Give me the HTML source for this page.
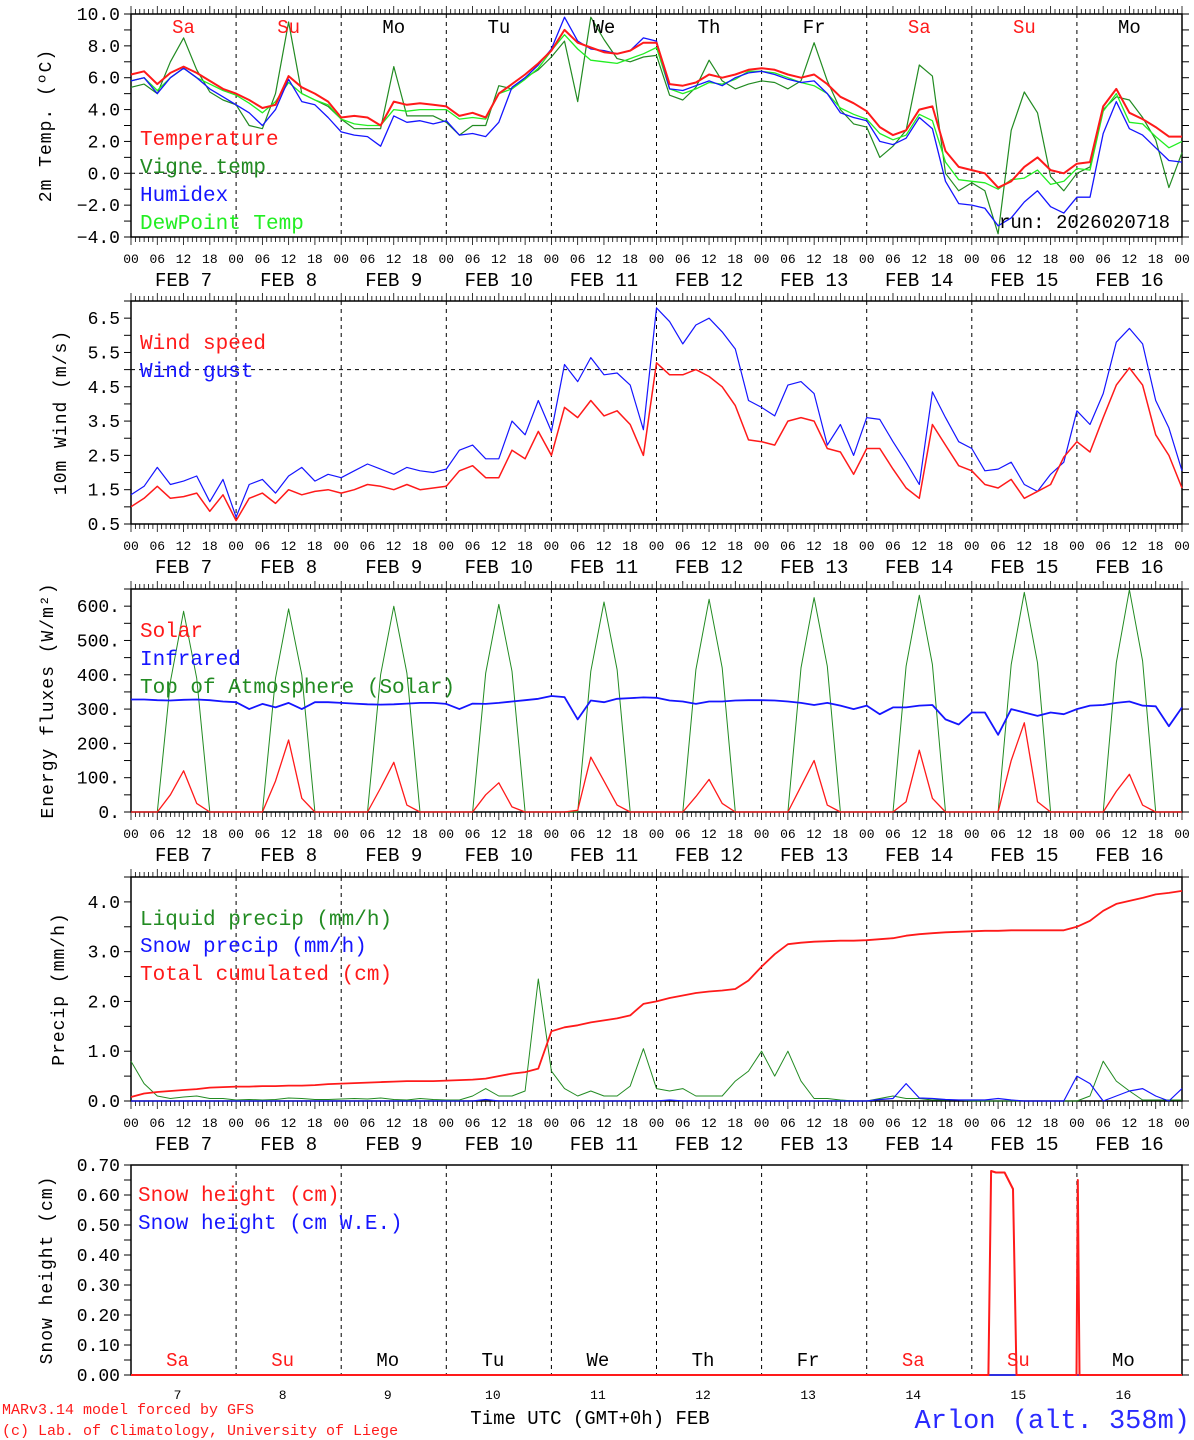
<!DOCTYPE html>
<html><head><meta charset="utf-8"><style>
html,body{margin:0;padding:0;background:#fff}
svg{display:block}
text{font-family:"Liberation Mono","DejaVu Sans Mono",monospace}
</style></head><body>
<svg id="c" width="1194" height="1440" viewBox="0 0 1194 1440" xmlns="http://www.w3.org/2000/svg"></svg>
<script>
const dayLabels=["Sa","Su","Mo","Tu","We","Th","Fr","Sa","Su","Mo"];
const dateLabels=["7","8","9","10","11","12","13","14","15","16"];
const temperature=[6.2,6.4,5.6,6.3,6.7,6.3,5.8,5.3, 5.0,4.6,4.1,4.3,6.1,5.4,5.0,4.5, 3.5,3.6,3.5,3.0,4.5,4.3,4.4,4.3, 4.2,3.6,3.8,3.5,5.0,5.6,6.2,6.9, 7.7,9.0,8.2,7.9,7.6,7.5,7.7,8.2, 8.2,5.6,5.5,5.7,6.2,6.0,6.2,6.5, 6.6,6.5,6.2,6.0,6.2,5.6,4.8,4.4, 3.9,2.9,2.4,2.7,4.0,4.2,1.4,0.4, 0.2,0.0,-0.9,-0.5,0.4,1.0,0.2,0.0, 0.6,0.7,4.2,5.3,3.8,3.4,2.9,2.3,2.3];
const vigneTemp=[5.4,5.6,5.0,7.0,8.5,6.5,5.1,4.6, 4.3,3.0,2.8,5.0,9.5,5.0,4.6,4.2, 3.4,2.8,2.8,2.8,6.7,3.6,3.6,3.6, 3.2,2.4,3.0,3.0,5.5,5.3,6.0,6.5, 7.3,8.3,4.5,9.8,8.4,7.2,7.0,7.3, 7.4,4.9,4.6,5.4,7.1,5.8,5.3,5.6, 5.8,5.7,5.3,5.8,8.2,5.8,4.0,3.1, 2.9,1.0,1.7,2.7,6.8,6.1,0.0,-1.1, -0.6,-1.1,-3.8,2.7,5.1,3.8,-0.2,-1.1, 0.0,0.4,4.0,4.8,4.6,3.5,2.1,-0.9,1.3];
const humidex=[5.8,6.0,5.0,6.0,6.6,6.0,5.3,4.8, 4.3,3.8,3.0,4.0,5.9,4.5,4.3,3.5, 2.6,2.4,2.3,1.7,3.6,3.2,3.3,3.1, 3.3,2.4,2.5,2.3,3.2,5.4,6.0,6.8, 7.8,9.8,8.3,7.8,7.7,7.5,7.7,8.5, 8.3,5.3,5.2,5.5,5.8,5.5,6.0,6.3, 6.4,6.2,5.9,5.7,5.8,5.0,3.8,3.5, 3.3,2.0,1.8,2.2,3.5,2.8,-0.5,-1.9, -2.0,-2.2,-3.3,-2.8,-1.8,-1.1,-2.1,-2.5, -1.5,-1.5,2.5,4.5,2.8,2.4,1.6,0.8,0.7];
const dewPoint=[5.8,6.0,5.2,6.0,6.6,6.0,5.6,5.2, 4.9,4.4,3.8,4.5,5.7,5.0,4.6,4.3, 3.4,3.1,3.0,3.0,4.0,3.9,4.0,4.0, 4.0,3.4,3.5,3.4,5.0,5.3,5.9,6.6, 7.7,8.7,7.8,7.1,7.0,6.9,7.2,7.5, 7.9,5.3,5.0,5.3,5.7,5.6,5.9,6.4, 6.4,6.3,6.0,5.7,5.5,5.0,4.1,3.7, 3.4,2.5,2.1,2.4,3.7,3.3,0.7,-0.4, -0.5,-0.6,-1.0,-0.4,-0.3,0.2,-0.7,-0.5, 0.3,0.2,3.9,5.0,3.2,3.1,2.3,1.6,2.0];
const windSpeed=[1.0,1.25,1.6,1.25,1.3,1.4,0.87,1.35, 0.6,1.25,1.4,1.1,1.5,1.35,1.45,1.5, 1.4,1.5,1.65,1.6,1.5,1.65,1.5,1.55, 1.6,2.05,2.2,1.85,1.85,2.65,2.4,3.2, 2.5,3.9,3.6,4.1,3.65,3.8,3.4,2.5, 5.2,4.85,4.85,5.0,4.8,4.5,3.95,2.95, 2.9,2.8,3.5,3.6,3.5,2.7,2.6,1.95, 2.7,2.7,2.1,1.55,1.25,3.4,2.8,2.2, 2.05,1.65,1.55,1.8,1.25,1.45,1.65,2.45, 2.9,2.6,3.6,4.55,5.05,4.55,3.1,2.5,1.55];
const windGust=[1.35,1.6,2.15,1.65,1.75,1.9,1.15,1.8, 0.7,1.65,1.8,1.4,1.9,2.15,1.75,1.95, 1.85,2.05,2.25,2.1,1.95,2.15,2.05,2.0, 2.1,2.65,2.8,2.4,2.4,3.5,3.1,4.1, 3.2,5.15,4.65,5.35,4.85,4.9,4.55,3.25, 6.8,6.4,5.75,6.3,6.5,6.1,5.6,4.1, 3.9,3.65,4.55,4.65,4.3,2.8,3.4,2.5, 3.6,3.55,2.9,2.3,1.65,4.35,3.6,2.9, 2.7,2.05,2.1,2.3,1.65,1.45,1.95,2.3, 3.8,3.4,4.3,5.8,6.2,5.75,4.1,3.3,2.05];
const solar=[0,0,0,50,120,25,0,0, 0,0,0,90,210,40,0,0, 0,0,0,70,145,20,0,0, 0,0,0,50,85,15,0,0, 0,0,5,160,90,20,0,0, 0,0,0,45,95,25,0,0, 0,0,0,75,150,20,0,0, 0,0,0,30,180,40,0,0, 0,0,0,150,260,30,0,0, 0,0,0,60,110,20,0,0,0];
const infrared=[328,328,326,325,327,328,326,322, 320,300,315,305,318,300,320,320, 318,316,314,313,314,316,318,318, 315,300,316,315,318,322,326,330, 338,335,270,325,320,330,332,334, 333,325,322,315,322,322,325,326, 326,325,322,318,312,318,310,300, 310,285,305,305,310,312,270,255, 290,290,225,300,290,280,290,285, 300,310,312,318,322,310,308,250,305];
const toaSolar=[0,0,0,380,585,390,0,0, 0,0,0,390,592,400,0,0, 0,0,0,400,600,405,0,0, 0,0,0,405,605,410,0,0, 0,0,0,410,612,415,0,0, 0,0,0,415,620,420,0,0, 0,0,0,420,625,425,0,0, 0,0,0,425,632,430,0,0, 0,0,0,430,640,435,0,0, 0,0,0,435,648,440,0,0,0];
const liquidPrecip=[0.8,0.35,0.1,0.05,0.08,0.1,0.05,0.05, 0.02,0.03,0.02,0.03,0.06,0.05,0.03,0.03, 0.04,0.05,0.04,0.06,0.03,0.02,0.05,0.03, 0.02,0.02,0.1,0.25,0.1,0.1,0.2,2.45, 0.6,0.25,0.1,0.2,0.1,0.1,0.3,1.05, 0.25,0.2,0.25,0.1,0.1,0.1,0.4,0.6, 1.0,0.5,1.0,0.4,0.05,0.05,0.02,0.0, 0.0,0.05,0.1,0.05,0.05,0.02,0.02,0.02, 0.0,0.0,0.0,0.0,0.0,0.0,0.0,0.0, 0.0,0.1,0.8,0.4,0.2,0.02,0.02,0.02,0.02];
const snowPrecip=[0,0,0,0,0,0,0,0, 0,0,0,0,0,0,0,0, 0,0,0,0,0,0,0,0, 0,0,0,0.03,0,0,0,0, 0,0,0,0,0,0,0,0, 0,0.02,0,0,0,0,0,0, 0,0,0,0,0,0,0,0, 0,0.03,0.05,0.35,0.06,0.05,0.03,0.02, 0.02,0.02,0.05,0.02,0,0,0,0, 0.5,0.35,0.0,0.1,0.2,0.25,0.1,0.0,0.25];
const totalCumulated=[0.08,0.15,0.18,0.2,0.22,0.24,0.27,0.28, 0.29,0.29,0.3,0.3,0.31,0.31,0.32,0.34, 0.35,0.36,0.37,0.38,0.39,0.4,0.4,0.4, 0.41,0.42,0.43,0.45,0.5,0.55,0.58,0.65, 1.4,1.48,1.52,1.58,1.62,1.66,1.72,1.95, 2.0,2.07,2.12,2.17,2.2,2.22,2.25,2.42, 2.7,2.95,3.15,3.18,3.2,3.21,3.22,3.22, 3.23,3.25,3.27,3.32,3.35,3.37,3.39,3.40, 3.41,3.42,3.42,3.43,3.43,3.43,3.43,3.43, 3.5,3.62,3.82,3.96,4.02,4.08,4.15,4.18,4.22];
const snowHours=[0,195.8,196.4,197.5,199.5,201.4,202.2,215.9,216.2,216.6,240];
const snowHeight=[0,0,0.68,0.675,0.675,0.62,0,0,0.65,0,0];
const snowHeightWE=[0,0];
const snowHeightWEHours=[0,240];

const NS="http://www.w3.org/2000/svg";
const svg=document.getElementById('c');
const X0=131,X1=1182;
function xh(h){return X0+h/240*(X1-X0);}
function el(tag,attrs,parent){const e=document.createElementNS(NS,tag);for(const k in attrs)e.setAttribute(k,attrs[k]);(parent||svg).appendChild(e);return e;}
function txt(s,x,y,size,fill,anchor,parent){const t=el('text',{x:x,y:y,'font-size':size,fill:fill,'text-anchor':anchor||'start'},parent);t.textContent=s;return t;}

const panels=[
 {name:'temperature',top:14,bot:237,min:-4,max:10,minor:1,major:2,fmt:v=>v.toFixed(1),title:'2m Temp. (ºC)',tx:45,labFont:18},
 {name:'wind',top:301,bot:524,min:0.5,max:7.0,minor:0.5,major:1,majorStart:0.5,fmt:v=>v.toFixed(1),title:'10m Wind (m/s)',tx:60,labFont:18},
 {name:'energy',top:589,bot:812,min:0,max:650,minor:50,major:100,fmt:v=>v.toFixed(0)+'.',title:'Energy fluxes (W/m²)',tx:47,labFont:18},
 {name:'precip',top:877,bot:1101,min:0,max:4.5,minor:0.5,major:1,fmt:v=>v.toFixed(1),title:'Precip (mm/h)',tx:58,labFont:18},
 {name:'snow',top:1165,bot:1375,min:0,max:0.70,minor:0.05,major:0.1,fmt:v=>v.toFixed(2),title:'Snow height (cm)',tx:46,labFont:18}
];
panels.forEach(p=>{p.y=v=>p.bot-(v-p.min)/(p.max-p.min)*(p.bot-p.top);});

panels.forEach((p,pi)=>{
  const g=el('g',{});
  
  
  for(let d=1;d<10;d++){
    const l=el('line',{x1:xh(d*24),x2:xh(d*24),y1:p.top,y2:p.bot,stroke:'#000','stroke-width':1,'stroke-dasharray':'4,4'},g);
    
    
  }
  const f=el('rect',{x:X0,y:p.top,width:X1-X0,height:p.bot-p.top,fill:'none',stroke:'#000','stroke-width':1.5},g);
  
  
  const n=Math.round((p.max-p.min)/p.minor);
  for(let i=0;i<=n;i++){
    const v=p.min+i*p.minor;const yy=p.y(v);
    el('line',{x1:X0-7,x2:X0,y1:yy,y2:yy,stroke:'#000','stroke-width':1},g);
    el('line',{x1:X1,x2:X1+7,y1:yy,y2:yy,stroke:'#000','stroke-width':1},g);
    const rel=(v-(p.majorStart!==undefined?p.majorStart:p.min))/p.major;
    if(Math.abs(rel-Math.round(rel))<1e-6 && (pi!==1||v<=6.5)){
      const t=txt(p.fmt(v).replace('-','−'),X0-11,yy+6,p.labFont,'#000','end',g);
      
      
    }
  }
  for(let h=0;h<=240;h++){
    const x=xh(h);const L=(h%6===0)?8:5;
    if(pi<4){el('line',{x1:x,x2:x,y1:p.top-L,y2:p.top,stroke:'#000','stroke-width':0.8},g);
    el('line',{x1:x,x2:x,y1:p.bot,y2:p.bot+L,stroke:'#000','stroke-width':0.8},g);}
  }
  if(pi<4){
    for(let h=0;h<=240;h+=6){
      const t=txt(String(h%24).padStart(2,'0'),xh(h),p.bot+26,13,'#000','middle',g);
      
      
    }
    for(let d=0;d<10;d++){
      const t=el('text',{x:xh(d*24+12),y:p.bot+49,'font-size':19,fill:'#000','text-anchor':'middle','xml:space':'preserve'},g);
      t.textContent='FEB '+dateLabels[d].padStart(2,' ');
      
      
    }
  }
  const yt=el('text',{x:0,y:0,'font-size':18,fill:'#000','text-anchor':'middle',transform:`translate(${p.tx+6},${(p.top+p.bot)/2}) rotate(-90)`,'letter-spacing':'1'},g);
  yt.textContent=p.title;
  
  
});

function series(p,vals,color,w,name,hours){
  const pts=vals.map((v,i)=>xh(hours?hours[i]:i*3).toFixed(1)+','+p.y(v).toFixed(1)).join(' ');
  const l=el('polyline',{points:pts,fill:'none',stroke:color,'stroke-width':w,'stroke-linejoin':'round'});
  
  
}
function hline(p,v){const l=el('line',{x1:X0,x2:X1,y1:p.y(v),y2:p.y(v),stroke:'#000','stroke-width':1,'stroke-dasharray':'4,4'});
  
  }
function legend(x,y,s,color){const t=txt(s,x,y,21,color,'start');
  
  }

const P=panels;
hline(P[0],0);
series(P[0],vigneTemp,'#228b22',1.2,'vigne-temp-line');
series(P[0],dewPoint,'#22ee22',1.3,'dewpoint-line');
series(P[0],humidex,'#1515ff',1.3,'humidex-line');
series(P[0],temperature,'#ff1a1a',2,'temperature-line');
legend(140,145,'Temperature','#ff1a1a');
legend(140,173,'Vigne temp','#228b22');
legend(140,201,'Humidex','#1515ff');
legend(140,229,'DewPoint Temp','#22ee22');
const run=txt('run: 2026020718',1170,228,19,'#000','end');


for(let d=0;d<10;d++){
  const c=(d===0||d===1||d===7||d===8)?'#ff1a1a':'#000';
  const t=txt(dayLabels[d],xh(d*24+12),33,19,c,'middle');
  
  
}
hline(P[1],5.0);
series(P[1],windGust,'#1515ff',1.2,'wind-gust-line');
series(P[1],windSpeed,'#ff1a1a',1.5,'wind-speed-line');
legend(140,349,'Wind speed','#ff1a1a');
legend(140,377,'Wind gust','#1515ff');
series(P[2],toaSolar,'#228b22',1,'toa-solar-line');
series(P[2],infrared,'#1515ff',1.8,'infrared-line');
series(P[2],solar,'#ff1a1a',1.3,'solar-line');
legend(140,637,'Solar','#ff1a1a');
legend(140,665,'Infrared','#1515ff');
legend(140,693,'Top of Atmosphere (Solar)','#228b22');
series(P[3],liquidPrecip,'#228b22',1,'liquid-precip-line');
series(P[3],snowPrecip,'#1515ff',1.2,'snow-precip-line');
series(P[3],totalCumulated,'#ff1a1a',1.8,'total-cumulated-line');
legend(140,925,'Liquid precip (mm/h)','#228b22');
legend(140,952,'Snow precip (mm/h)','#1515ff');
legend(140,980,'Total cumulated (cm)','#ff1a1a');
series(P[4],snowHeightWE,'#1515ff',1.5,'snow-height-we-line',snowHeightWEHours);
series(P[4],snowHeight,'#ff1a1a',2,'snow-height-line',snowHours);
legend(138,1201,'Snow height (cm)','#ff1a1a');
legend(138,1229,'Snow height (cm W.E.)','#1515ff');
for(let d=0;d<10;d++){
  const c=(d===0||d===1||d===7||d===8)?'#ff1a1a':'#000';
  const t=txt(dayLabels[d],xh(d*24+12)-6,1366,19,c,'middle');
  
  
  const n=txt(dateLabels[d],xh(d*24+12)-6,1399,13,'#000','middle');
  
  
}
const xt=txt('Time UTC (GMT+0h) FEB',590,1424,19,'#000','middle');


const f1=txt('MARv3.14 model forced by GFS',2,1414,15,'#ff1a1a','start');


const f2=txt('(c) Lab. of Climatology, University of Liege',2,1435,15,'#ff1a1a','start');


const loc=txt('Arlon (alt. 358m)',1190,1428,27,'#2a2aff','end');


</script>
</body></html>
